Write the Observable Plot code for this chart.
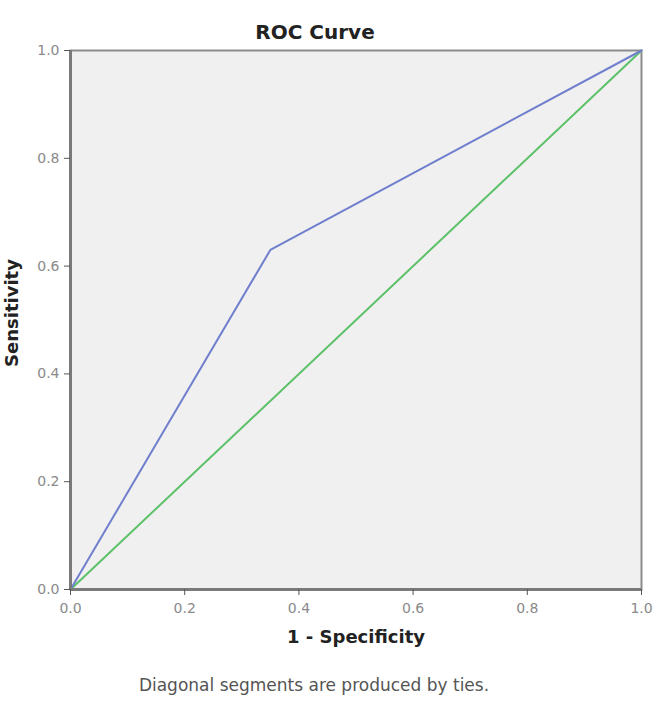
<!DOCTYPE html>
<html><head><meta charset="utf-8">
<script src="https://cdn.jsdelivr.net/npm/d3@7"></script>
<script src="https://cdn.jsdelivr.net/npm/@observablehq/plot@0.6"></script>
<style>
body{margin:0;background:#fff;font-family:"DejaVu Sans",sans-serif;}
#wrap{position:relative;width:662px;height:710px;}
#title{position:absolute;left:0;width:630px;top:20px;text-align:center;font-weight:bold;font-size:20px;line-height:24px;color:#222;}
#caption{position:absolute;left:0;width:628px;top:675px;text-align:center;font-size:17px;line-height:20px;color:#555;}
#chart{position:absolute;left:0;top:0;}
</style></head>
<body><div id="wrap"><div id="title">ROC Curve</div><div id="chart"></div><div id="caption">Diagonal segments are produced by ties.</div></div>
<script>
const fpr = [0.0, 0.35, 1.0];
const tpr = [0.0, 0.63, 1.0];
const refX = [0.0, 1.0];
const refY = [0.0, 1.0];
const ticks = [0, 0.2, 0.4, 0.6, 0.8, 1.0];

const curve = fpr.map((v, i) => ({x: v, y: tpr[i]}));
const ref = refX.map((v, i) => ({x: v, y: refY[i]}));

const chart = Plot.plot({
  width: 662, height: 660,
  marginLeft: 70, marginRight: 21, marginTop: 50, marginBottom: 71,
  style: {fontFamily: "DejaVu Sans, sans-serif", background: "transparent"},
  x: {domain: [0, 1], ticks: ticks, tickFormat: d3.format(".1f"), label: null},
  y: {domain: [0, 1], ticks: ticks, tickFormat: d3.format(".1f"), label: null},
  marks: [
    Plot.frame({fill: "#f0f0f0", stroke: "#8c8c8c", strokeWidth: 2}),
    Plot.line(ref, {x: "x", y: "y", stroke: "#5cc169", strokeWidth: 2}),
    Plot.line(curve, {x: "x", y: "y", stroke: "#6f7fcd", strokeWidth: 2}),
    Plot.ruleX([0], {stroke: "#7a7a7a", strokeWidth: 3}),
    Plot.ruleY([0], {stroke: "#7a7a7a", strokeWidth: 3}),
    Plot.axisX(ticks, {tickSize: 6, tickPadding: 8, fontSize: 14, color: "#8a8a8a", stroke: "#555", tickFormat: d3.format(".1f"), label: null}),
    Plot.axisY(ticks, {tickSize: 6, tickPadding: 5, fontSize: 14, color: "#8a8a8a", stroke: "#555", tickFormat: d3.format(".1f"), label: null}),
    Plot.text(["1 - Specificity"], {frameAnchor: "bottom", dy: 53, fontSize: 18, fontWeight: "bold", fill: "#222"}),
    Plot.text(["Sensitivity"], {frameAnchor: "left", textAnchor: "middle", dx: -58, dy: -7, rotate: -90, fontSize: 18, fontWeight: "bold", fill: "#222"})
  ]
});
document.getElementById("chart").append(chart);
</script></body></html>
